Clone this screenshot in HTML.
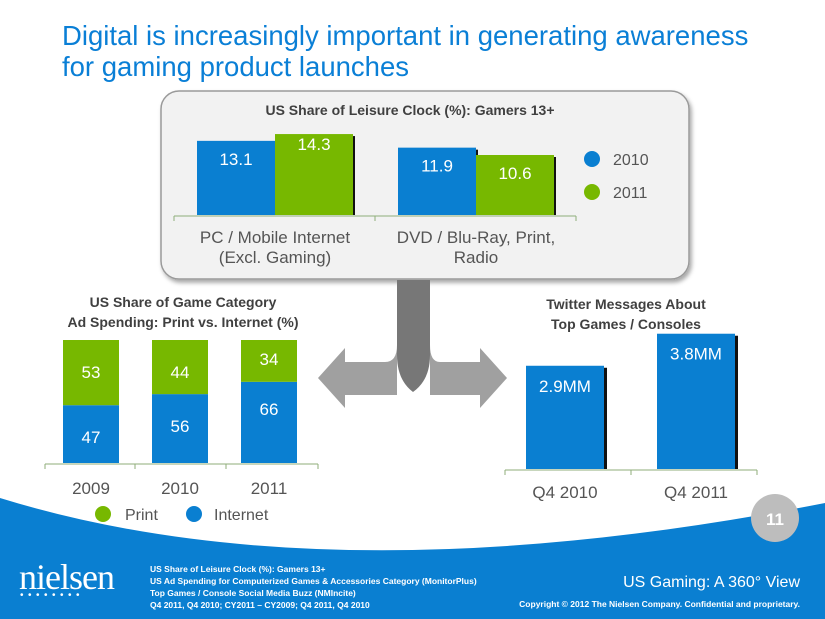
<!DOCTYPE html>
<html><head><meta charset="utf-8">
<style>
body{margin:0;width:825px;height:619px;overflow:hidden;background:#fff;font-family:"Liberation Sans",sans-serif;position:relative}
.t{position:absolute;white-space:nowrap}
</style></head>
<body>
<div class="t" style="left:62px;top:20px;font-size:27.5px;line-height:31px;color:#0a7fd6">Digital is increasingly important in generating awareness<br>for gaming product launches</div>

<svg width="825" height="619" style="position:absolute;left:0;top:0">
<defs><filter id="sh" x="-5%" y="-5%" width="115%" height="120%"><feDropShadow dx="2" dy="3" stdDeviation="2" flood-color="#000" flood-opacity="0.35"/></filter></defs>
<path d="M0,498 Q330,600 825,503 L825,619 L0,619 Z" fill="#0a7fd1"/>
<circle cx="775" cy="518" r="24" fill="#bdbdbd"/>
<text x="775" y="525" text-anchor="middle" font-size="17" font-weight="bold" fill="#fff" font-family="Liberation Sans">11</text>
<rect x="161" y="91" width="528" height="188" rx="18" fill="#f2f2f2" stroke="#9a9a9a" stroke-width="1.5" filter="url(#sh)"/>
<g>
<path d="M318,378 L345,348 L345,362 L385,362 Q397,362 397,345 L397,395 L345,395 L345,408 Z" fill="#a0a0a0"/>
<path d="M507,378 L480,348 L480,362 L440,362 Q430,362 430,345 L430,395 L480,395 L480,408 Z" fill="#a0a0a0"/>
<path d="M397,280 L430,280 L430,355 Q430,380 413,392 Q397,380 397,355 Z" fill="#777"/>
</g>
<g id="top"></g><g id="left"></g><g id="right"></g>
</svg>

<script>
const NS='http://www.w3.org/2000/svg';
function mk(p,tag,a,txt){const e=document.createElementNS(NS,tag);for(const k in a)e.setAttribute(k,a[k]);if(txt!==undefined)e.textContent=txt;p.appendChild(e);return e;}
const BLUE='#0a7fd1',GREEN='#77b800',F='Liberation Sans';

const topCats=['PC / Mobile Internet|(Excl. Gaming)','DVD / Blu-Ray, Print,|Radio'];
const top2010=[13.1,11.9];
const top2011=[14.3,10.6];
const topSeries=['2010','2011'];
const T=document.getElementById('top');
const tBase=215, tScale=5.66;
const ty=v=>tBase-v*tScale;
mk(T,'text',{x:410,y:115,'text-anchor':'middle','font-size':14,'font-weight':'bold',fill:'#404040','font-family':F},'US Share of Leisure Clock (%): Gamers 13+');
topCats.forEach((c,i)=>{
  const x0=197+i*201;
  [[top2010[i],BLUE],[top2011[i],GREEN]].forEach(([v,col],j)=>{
    const x=x0+j*78;
    mk(T,'rect',{x:x+3,y:ty(v)+2,width:77,height:v*tScale-2,fill:'#111'});
    const r=mk(T,'rect',{x:x,y:ty(v),width:78,height:v*tScale,fill:col});
    
    
    mk(T,'text',{x:x+39,y:ty(v)+(j==1&&i==0?16:24),'text-anchor':'middle','font-size':17,fill:'#fff','font-family':F},v.toFixed(1));
  });
  const ls=c.split('|');
  ls.forEach((l,k)=>mk(T,'text',{x:x0+78,y:243+k*20,'text-anchor':'middle','font-size':17,fill:'#555','font-family':F},l));
});
mk(T,'line',{x1:174,y1:216,x2:576,y2:216,stroke:'#8fae7a','stroke-width':1});
[174,375,576].forEach(x=>mk(T,'line',{x1:x,y1:216,x2:x,y2:221,stroke:'#8fae7a'}));
[BLUE,GREEN].forEach((c,i)=>{mk(T,'circle',{cx:592,cy:159+i*33,r:8,fill:c});mk(T,'text',{x:613,y:165+i*33,'font-size':16,fill:'#555','font-family':F},topSeries[i]);});

const years=['2009','2010','2011'];
const internet=[47,56,66];
const print=[53,44,34];
const L=document.getElementById('left');
const lBase=463,lScale=1.23;
mk(L,'text',{x:183,y:307,'text-anchor':'middle','font-size':14,'font-weight':'bold',fill:'#404040','font-family':F},'US Share of Game Category');
mk(L,'text',{x:183,y:327,'text-anchor':'middle','font-size':14,'font-weight':'bold',fill:'#404040','font-family':F},'Ad Spending: Print vs. Internet (%)');
years.forEach((y,i)=>{
  const x=63+i*89,w=56;
  const hi=internet[i]*lScale,hp=print[i]*lScale;
  const b=mk(L,'rect',{x:x,y:lBase-hi,width:w,height:hi,fill:BLUE});
  
  
  const g=mk(L,'rect',{x:x,y:lBase-hi-hp,width:w,height:hp,fill:GREEN});
  
  
  mk(L,'text',{x:x+w/2,y:lBase-hi+(i==2?33:38),'text-anchor':'middle','font-size':17,fill:'#fff','font-family':F},internet[i]);
  mk(L,'text',{x:x+w/2,y:lBase-hi-hp+(i==2?25:38),'text-anchor':'middle','font-size':17,fill:'#fff','font-family':F},print[i]);
  mk(L,'text',{x:x+w/2,y:494,'text-anchor':'middle','font-size':17,fill:'#555','font-family':F},y);
});
mk(L,'line',{x1:45,y1:464,x2:318,y2:464,stroke:'#8fae7a'});
[45,135,226,318].forEach(x=>mk(L,'line',{x1:x,y1:464,x2:x,y2:469,stroke:'#8fae7a'}));
mk(L,'circle',{cx:103,cy:514,r:8,fill:GREEN});
mk(L,'text',{x:125,y:520,'font-size':16,fill:'#555','font-family':F},'Print');
mk(L,'circle',{cx:194,cy:514,r:8,fill:BLUE});
mk(L,'text',{x:214,y:520,'font-size':16,fill:'#555','font-family':F},'Internet');

const quarters=['Q4 2010','Q4 2011'];
const tweets=[2.9,3.8];
const R=document.getElementById('right');
const rBase=469,rScale=35.6;
mk(R,'text',{x:626,y:309,'text-anchor':'middle','font-size':14,'font-weight':'bold',fill:'#404040','font-family':F},'Twitter Messages About');
mk(R,'text',{x:626,y:329,'text-anchor':'middle','font-size':14,'font-weight':'bold',fill:'#404040','font-family':F},'Top Games / Consoles');
quarters.forEach((q,i)=>{
  const x=526+i*131,h=tweets[i]*rScale;
  mk(R,'rect',{x:x+3,y:rBase-h+2,width:78,height:h-2,fill:'#111'});
  const b=mk(R,'rect',{x:x,y:rBase-h,width:78,height:h,fill:BLUE});
  
  
  mk(R,'text',{x:x+39,y:rBase-h+26,'text-anchor':'middle','font-size':17,fill:'#fff','font-family':F},tweets[i].toFixed(1)+'MM');
  mk(R,'text',{x:x+39,y:498,'text-anchor':'middle','font-size':17,fill:'#555','font-family':F},q);
});
mk(R,'line',{x1:505,y1:470,x2:757,y2:470,stroke:'#8fae7a'});
[505,631,757].forEach(x=>mk(R,'line',{x1:x,y1:470,x2:x,y2:475,stroke:'#8fae7a'}));
</script>

<div class="t" style="left:19px;top:556px;font-family:'Liberation Serif',serif;font-size:36px;color:#fff;letter-spacing:-1px">nielsen</div>
<div class="t" style="left:20px;top:590px;font-size:10px;color:#fff;letter-spacing:4.5px">••••••••</div>
<div class="t" style="left:150px;top:563px;font-size:8.5px;line-height:12px;font-weight:bold;color:#fff">US Share of Leisure Clock (%): Gamers 13+<br>US Ad Spending for Computerized Games &amp; Accessories Category (MonitorPlus)<br>Top Games / Console Social Media Buzz (NMIncite)<br>Q4 2011, Q4 2010; CY2011 – CY2009; Q4 2011, Q4 2010</div>
<div class="t" style="right:25px;top:574px;font-size:16px;color:#fff">US Gaming: A 360° View</div>
<div class="t" style="right:25px;top:599px;font-size:8.5px;font-weight:bold;color:#fff">Copyright © 2012 The Nielsen Company. Confidential and proprietary.</div>
</body></html>
